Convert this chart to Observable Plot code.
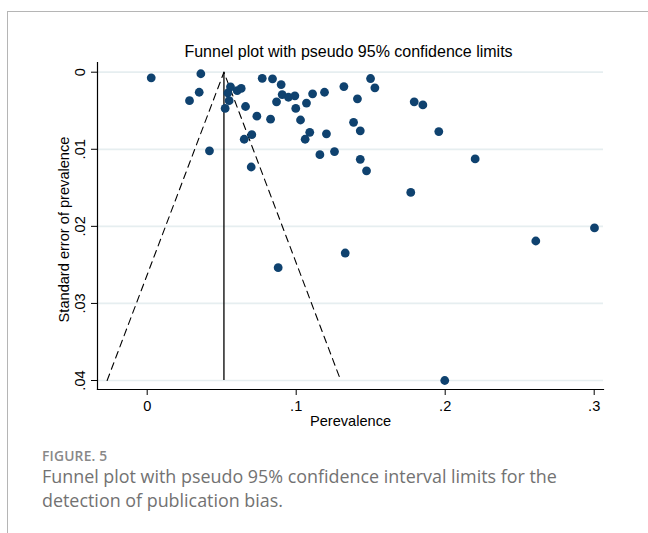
<!DOCTYPE html>
<html>
<head>
<meta charset="utf-8">
<script src="https://cdn.jsdelivr.net/npm/d3@7"></script>
<script src="https://cdn.jsdelivr.net/npm/@observablehq/plot@0.6"></script>
<style>
  html, body { margin: 0; padding: 0; background: #fff; width: 648px; height: 533px; overflow: hidden; }
  #border { position: absolute; left: 7px; top: 11px; width: 650px; height: 530px;
            border-top: 1px solid #b5b5b5; border-left: 1px solid #b5b5b5; }
  #chart { position: absolute; left: 0; top: 0; }
  #cap { position: absolute; left: 42px; top: 447px; font-family: "Open Sans", sans-serif; color: #727272; }
  #cap .fig { font-size: 13.8px; font-weight: 600; line-height: 18px; color: #888888; letter-spacing: 0.2px; }
  #cap .txt { font-size: 17.9px; line-height: 23.5px; margin-top: 0px; }
</style>
</head>
<body>
<div id="border"></div>
<div id="chart"></div>
<div id="cap">
  <div class="fig">FIGURE. 5</div>
  <div class="txt">Funnel plot with pseudo 95% confidence interval limits for the<br>detection of publication bias.</div>
</div>
<script>
// Study estimates
const prevalence = [
  0.0027, 0.0360, 0.0349, 0.0284, 0.0559, 0.0541, 0.0604, 0.0631, 0.0550, 0.0523,
  0.0660, 0.0772, 0.0841, 0.0899, 0.0906, 0.0948, 0.0868, 0.0736, 0.0828, 0.0702,
  0.0651, 0.0418, 0.0698, 0.0991, 0.1110, 0.1190, 0.1320, 0.1499, 0.1528, 0.1069,
  0.0997, 0.1411, 0.1792, 0.1850, 0.1029, 0.1385, 0.1430, 0.1091, 0.1203, 0.1060,
  0.1957, 0.1257, 0.1159, 0.1430, 0.1472, 0.2201, 0.1769, 0.2608, 0.3002, 0.0879,
  0.1329, 0.1997
];
const standardError = [
  0.00073, 0.00020, 0.00260, 0.00370, 0.00190, 0.00270, 0.00240, 0.00210, 0.00370, 0.00470,
  0.00445, 0.00080, 0.00086, 0.00160, 0.00290, 0.00325, 0.00385, 0.00570, 0.00610, 0.00810,
  0.00870, 0.01020, 0.01230, 0.00307, 0.00280, 0.00260, 0.00186, 0.00082, 0.00203, 0.00400,
  0.00470, 0.00346, 0.00385, 0.00424, 0.00620, 0.00650, 0.00760, 0.00780, 0.00800, 0.00870,
  0.00770, 0.01030, 0.01070, 0.01130, 0.01280, 0.01125, 0.01560, 0.02190, 0.02020, 0.02536,
  0.02346, 0.04000
];

// Funnel (pooled estimate and pseudo 95% limits at the largest SE)
const pooledEstimate = 0.0515;
const funnelSE = [0.04, 0, 0.04];
const funnelX = [-0.0269, 0.0515, 0.1299];

// Axes
const xTicks = [0, 0.1, 0.2, 0.3];
const xTickLabels = ["0", ".1", ".2", ".3"];
const yTicks = [0, 0.01, 0.02, 0.03, 0.04];
const yTickLabels = ["0", ".01", ".02", ".03", ".04"];

const titleText = "Funnel plot with pseudo 95% confidence limits";
const xLabel = "Perevalence";
const yLabel = "Standard error of prevalence";

const studies = prevalence.map((p, i) => ({p, se: standardError[i]}));
const funnel = funnelX.map((x, i) => ({x, se: funnelSE[i]}));
const yTickRows = yTicks.map((v, i) => ({v, label: yTickLabels[i]}));

const navy = "#0f426f";
const axisFont = 14.6;

const chart = Plot.plot({
  width: 648,
  height: 440,
  marginLeft: 97,
  marginRight: 45,
  marginTop: 62,
  marginBottom: 51,
  style: { fontFamily: "'Liberation Sans', Arial, sans-serif", fontSize: axisFont + "px", color: "#000", background: "transparent" },
  x: { domain: [0, 0.3], insetLeft: 49.7, insetRight: 9.3 },
  y: { domain: [0, 0.04], reverse: true, insetTop: 9.7, insetBottom: 9 },
  marks: [
    Plot.gridY(yTicks, { stroke: "#e6eef0", strokeOpacity: 1, strokeWidth: 1.7 }),
    Plot.line(funnel, { x: "x", y: "se", stroke: "#000", strokeWidth: 1.1, strokeDasharray: "7,5" }),
    Plot.ruleX([pooledEstimate], { y1: 0, y2: 0.04, stroke: "#000", strokeWidth: 1.3 }),
    Plot.frame({ anchor: "left", stroke: "#000", strokeWidth: 1.2 }),
    Plot.frame({ anchor: "bottom", stroke: "#000", strokeWidth: 1.2 }),
    Plot.axisX({ ticks: xTicks, tickFormat: d => xTickLabels[xTicks.indexOf(d)], tickSize: 6, tickPadding: 5, label: null, fontSize: axisFont }),
    Plot.axisY({ ticks: yTicks, tickSize: 6, tickFormat: () => "", label: null }),
    Plot.text(yTickRows, { y: "v", text: "label", frameAnchor: "left", rotate: -90, textAnchor: "middle",
                           lineAnchor: "bottom", dx: -12.5, fontSize: axisFont }),
    Plot.dot(studies, { x: "p", y: "se", r: 4.4, fill: navy, stroke: null }),
    Plot.text([titleText], { frameAnchor: "top", textAnchor: "middle", lineAnchor: "bottom", dy: -6, dx: -2, fontSize: 16 }),
    Plot.text([yLabel], { frameAnchor: "left", rotate: -90, textAnchor: "middle", lineAnchor: "middle", dx: -33, dy: 3.5, fontSize: axisFont }),
    Plot.text([xLabel], { frameAnchor: "bottom", textAnchor: "middle", lineAnchor: "top", dy: 26, fontSize: axisFont })
  ]
});
document.getElementById("chart").appendChild(chart);
</script>
</body>
</html>
